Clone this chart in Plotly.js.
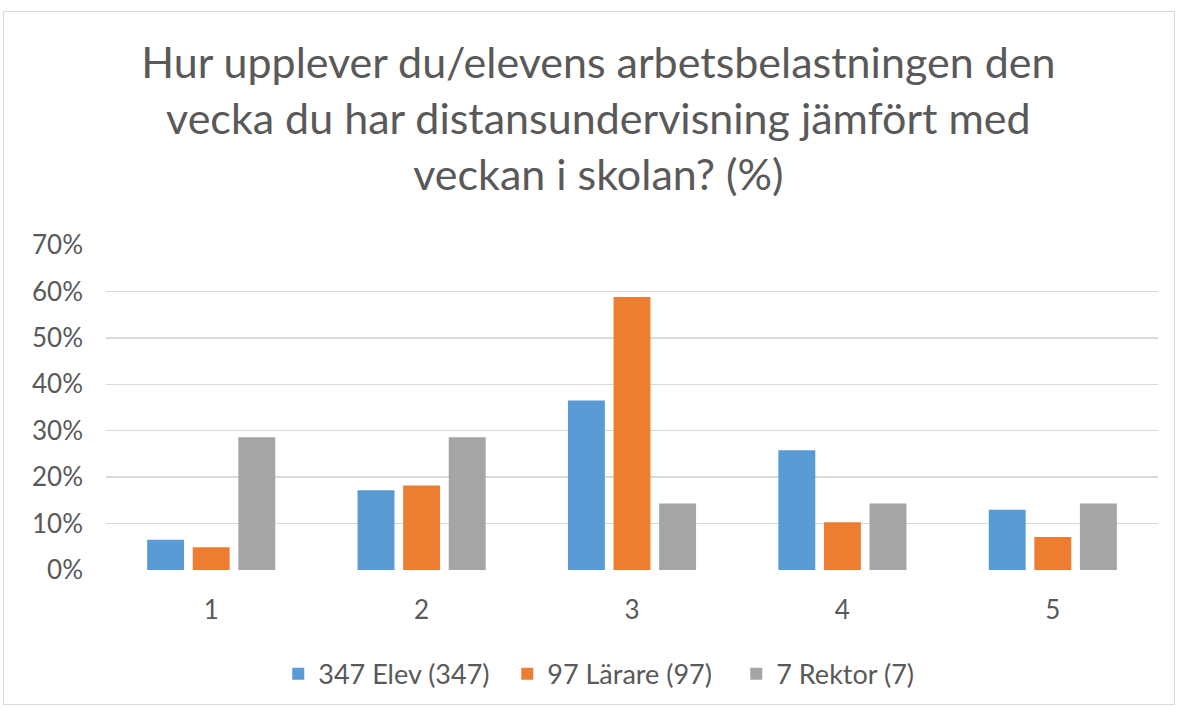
<!DOCTYPE html>
<html>
<head>
<meta charset="utf-8">
<script src="https://cdn.plot.ly/plotly-3.0.1.min.js"></script>
<style>
  html, body { margin: 0; padding: 0; background: #ffffff; }
  #frame { position: absolute; left: 3px; top: 11px; width: 1170px; height: 692px; border: 1px solid #d9d9d9; background: #fff; }
  #chart { width: 1170px; height: 692px; }
</style>
</head>
<body>
<div id="frame"><div id="chart"></div></div>
<script>
const categories = ["1", "2", "3", "4", "5"];
const elev = [6.5, 17.2, 36.5, 25.8, 13.0];
const larare = [4.9, 18.2, 58.8, 10.3, 7.1];
const rektor = [28.6, 28.6, 14.3, 14.3, 14.3];
const seriesNames = ["347 Elev (347)", "97 Lärare (97)", "7 Rektor (7)"];
const colors = ["#5B9BD5", "#ED7D31", "#A5A5A5"];
const yTicks = [0, 10, 20, 30, 40, 50, 60, 70];
const titleText = "Hur upplever du/elevens arbetsbelastningen den<br>vecka du har distansundervisning jämfört med<br>veckan i skolan? (%)";

const FONT = "Lato, 'Open Sans', sans-serif";
const data = [elev, larare, rektor].map((vals, i) => ({
  type: "bar",
  x: categories,
  y: vals,
  name: seriesNames[i],
  marker: { color: colors[i], line: { width: 0 } },
  hoverinfo: "x+y+name"
}));

const layout = {
  width: 1170,
  height: 692,
  margin: { l: 102, r: 16, t: 233, b: 134 },
  paper_bgcolor: "#ffffff",
  plot_bgcolor: "#ffffff",
  font: { family: FONT, color: "#595959" },
  title: {
    text: titleText,
    font: { family: FONT, size: 43, color: "#595959" },
    xref: "container", x: 0.508, xanchor: "center",
    yref: "container", y: 0.905, yanchor: "top"
  },
  barmode: "group",
  bargap: 0.35,
  bargroupgap: 0.19,
  xaxis: {
    type: "category",
    showgrid: false,
    showline: false,
    zeroline: false,
    ticks: "",
    tickfont: { family: FONT, size: 26, color: "#595959" },
    ticklabelstandoff: 22
  },
  yaxis: {
    range: [0, 70],
    tickvals: yTicks,
    ticktext: yTicks.map(v => v + "%"),
    showgrid: true,
    gridcolor: "#d9d9d9",
    gridwidth: 1.5,
    zeroline: false,
    showline: false,
    ticks: "",
    tickfont: { family: FONT, size: 26, color: "#595959" },
    ticklabelstandoff: 22
  },
  showlegend: true,
  legend: {
    orientation: "h",
    xref: "container", x: 0.528, xanchor: "center",
    yref: "container", y: 0.043, yanchor: "middle",
    font: { family: FONT, size: 27, color: "#595959" },
    entrywidth: 184,
    traceorder: "normal"
  }
};

Plotly.newPlot("chart", data, layout, { displayModeBar: false, staticPlot: true });
</script>
</body>
</html>
